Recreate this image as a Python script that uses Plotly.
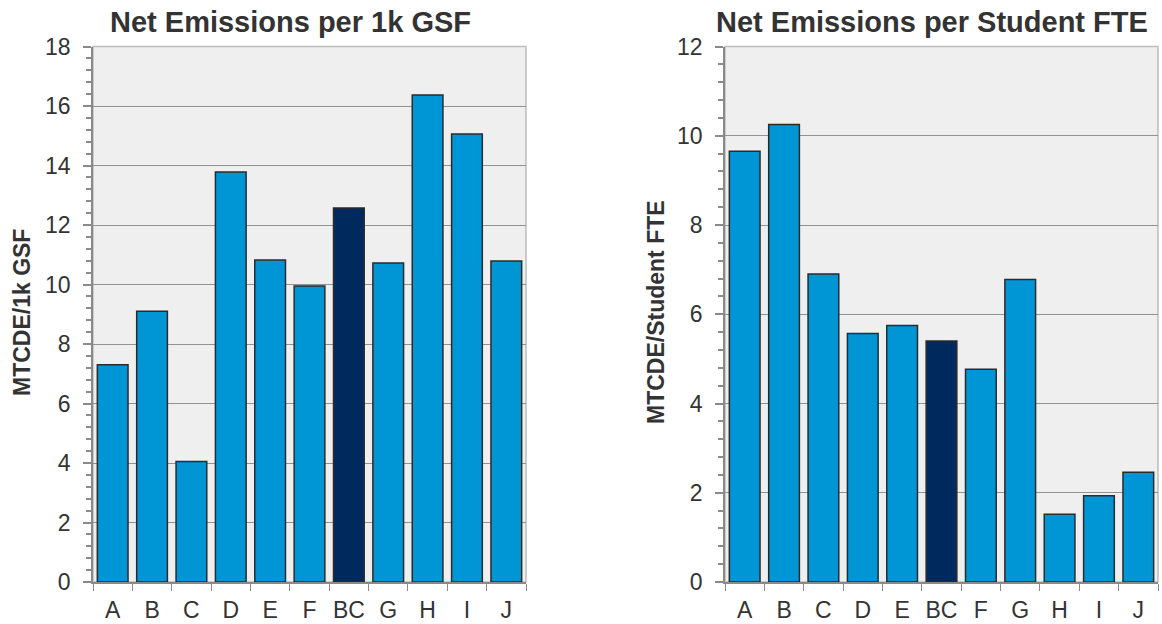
import plotly.graph_objects as go
from plotly.subplots import make_subplots

# Net emissions per 1,000 gross square feet
gsf_categories = ["A", "B", "C", "D", "E", "F", "BC", "G", "H", "I", "J"]
gsf_values = [7.3, 9.1, 4.05, 13.78, 10.82, 9.95, 12.57, 10.72, 16.37, 15.06, 10.79]

# Net emissions per student FTE
fte_categories = ["A", "B", "C", "D", "E", "BC", "F", "G", "H", "I", "J"]
fte_values = [9.65, 10.25, 6.9, 5.57, 5.75, 5.4, 4.77, 6.78, 1.52, 1.93, 2.46]

highlight = "BC"
bar_color = "#0096d6"
highlight_color = "#002a5e"

gsf_ticks = [0, 2, 4, 6, 8, 10, 12, 14, 16, 18]
fte_ticks = [0, 2, 4, 6, 8, 10, 12]

font_family = "Liberation Sans, Arial, sans-serif"
text_color = "#333333"

fig = make_subplots(rows=1, cols=2)


def colors_for(cats):
    return [highlight_color if c == highlight else bar_color for c in cats]


fig.add_trace(go.Bar(x=gsf_categories, y=gsf_values, marker=dict(
    color=colors_for(gsf_categories), line=dict(color="#2b2b2b", width=1.5))), row=1, col=1)
fig.add_trace(go.Bar(x=fte_categories, y=fte_values, marker=dict(
    color=colors_for(fte_categories), line=dict(color="#2b2b2b", width=1.5))), row=1, col=2)

W, H = 1162, 624
left_dom = [93 / W, 526 / W]
right_dom = [725 / W, 1158 / W]
y_dom = [(H - 582) / H, (H - 46.5) / H]

xaxis_common = dict(
    tickson="boundaries", ticks="outside", ticklen=7, tickcolor="#8a8a8a",
    showline=True, linecolor="#8a8a8a", linewidth=1.5, showgrid=False,
    tickfont=dict(family=font_family, size=23, color=text_color),
    tickangle=0, automargin=False,
    ticklabelstandoff=7, fixedrange=True,
)
yaxis_common = dict(
    ticks="outside", ticklen=8, tickcolor="#8a8a8a", tickwidth=1.5,
    showline=True, linecolor="#8a8a8a", linewidth=1.5,
    showgrid=True, gridcolor="#929292", gridwidth=1.2, zeroline=False,
    tickfont=dict(family=font_family, size=23, color=text_color),
    ticklabelstandoff=8, automargin=False,
    minor=dict(dtick=0.4, ticks="outside", ticklen=5, tickcolor="#8a8a8a", showgrid=False),
)

fig.update_layout(
    width=W, height=H, margin=dict(l=0, r=0, t=0, b=0),
    paper_bgcolor="white", plot_bgcolor="#efefef",
    showlegend=False, bargap=0.22,
    xaxis=dict(domain=left_dom, **xaxis_common),
    xaxis2=dict(domain=right_dom, **xaxis_common),
    yaxis=dict(domain=y_dom, range=[0, 18], tickvals=gsf_ticks, **yaxis_common),
    yaxis2=dict(domain=y_dom, range=[0, 12], tickvals=fte_ticks, **yaxis_common),
)

# light frame around each plotting area
for dom in (left_dom, right_dom):
    fig.add_shape(type="rect", xref="paper", yref="paper",
                  x0=dom[0], x1=dom[1], y0=y_dom[0], y1=y_dom[1],
                  line=dict(color="#bdbdbd", width=1.5), layer="below")

title_font = dict(family=font_family, size=29, color=text_color)
axis_title_font = dict(family=font_family, size=23, color=text_color)

annotations = [
    dict(text="<b>Net Emissions per 1k GSF</b>", x=290 / W, y=1 - 22 / H,
         font=title_font),
    dict(text="<b>Net Emissions per Student FTE</b>", x=932 / W, y=1 - 22 / H,
         font=title_font),
    dict(text="<b>MTCDE/1k GSF</b>", x=22 / W, y=1 - 313 / H, textangle=-90,
         font=axis_title_font),
    dict(text="<b>MTCDE/Student FTE</b>", x=656 / W, y=1 - 312 / H, textangle=-90,
         font=axis_title_font),
]
for a in annotations:
    fig.add_annotation(xref="paper", yref="paper", showarrow=False,
                       xanchor="center", yanchor="middle", **a)

fig.write_html("out.html")
